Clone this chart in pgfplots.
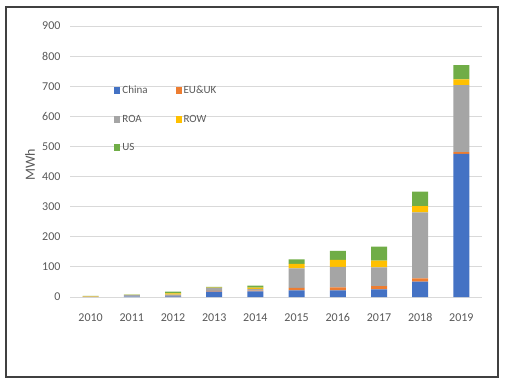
\documentclass[border=0pt]{standalone}
\usepackage{pgfplots}
\pgfplotsset{compat=1.18}
\usepackage{fontspec}
\setmainfont{Carlito}
\definecolor{cChina}{HTML}{4472C4}
\definecolor{cEU}{HTML}{ED7D31}
\definecolor{cROA}{HTML}{A5A5A5}
\definecolor{cROW}{HTML}{FFC000}
\definecolor{cUS}{HTML}{70AD47}
\definecolor{txt}{HTML}{595959}
\definecolor{grd}{HTML}{D9D9D9}
\begin{document}
\begin{tikzpicture}
\useasboundingbox (0pt,0pt) rectangle (508pt,386pt);
\draw[black!75, line width=1.2pt] (6pt,9pt) rectangle (498pt,379pt);
\begin{axis}[
  at={(70pt,89pt)}, anchor=south west,
  scale only axis, width=412pt, height=271pt,
  xmin=-0.5, xmax=9.5, ymin=0, ymax=900,
  ybar stacked, bar width=16pt,
  axis line style={draw=none},
  ymajorgrids, grid style={color=grd, line width=0.9pt},
  ytick={0,100,...,900},
  xtick={0,...,9},
  xticklabels={2010,2011,2012,2013,2014,2015,2016,2017,2018,2019},
  major tick length=0pt,
  /pgf/number format/assume math mode=true,
  ticklabel style={font=\fontsize{12}{14}\selectfont, text=txt},
  yticklabel style={xshift=-6pt},
  xticklabel style={yshift=-13pt},
  legend style={draw=none, fill=none, at={(0.1,0.795)}, anchor=north west,
    font=\fontsize{11}{13}\selectfont, text=txt, row sep=16pt,
    /tikz/every even column/.append style={column sep=26pt}},
  legend columns=2, legend cell align=left,
  legend image code/.code={\fill[#1] (0pt,-3.5pt) rectangle (6pt,3.5pt);},
]
\addplot[fill=cChina, draw=none] coordinates {(0,0)(1,1)(2,2)(3,18)(4,19)(5,22)(6,22)(7,25)(8,51)(9,475)};
\addplot[fill=cEU, draw=none] coordinates {(0,0)(1,0)(2,1)(3,2)(4,2)(5,8)(6,10)(7,11)(8,11)(9,6)};
\addplot[fill=cROA, draw=none] coordinates {(0,1)(1,5)(2,5)(3,10)(4,6)(5,65)(6,68)(7,62)(8,219)(9,223)};
\addplot[fill=cROW, draw=none] coordinates {(0,2)(1,1)(2,4)(3,1)(4,4)(5,15)(6,23)(7,23)(8,21)(9,19)};
\addplot[fill=cUS, draw=none] coordinates {(0,1)(1,1)(2,6)(3,3)(4,7)(5,15)(6,30)(7,46)(8,48)(9,47)};
\legend{China, EU\&UK, ROA, ROW, US}
\end{axis}
\node[rotate=90, text=txt, font=\fontsize{14}{16}\selectfont] at (30pt,221pt) {MWh};
\end{tikzpicture}
\end{document}
